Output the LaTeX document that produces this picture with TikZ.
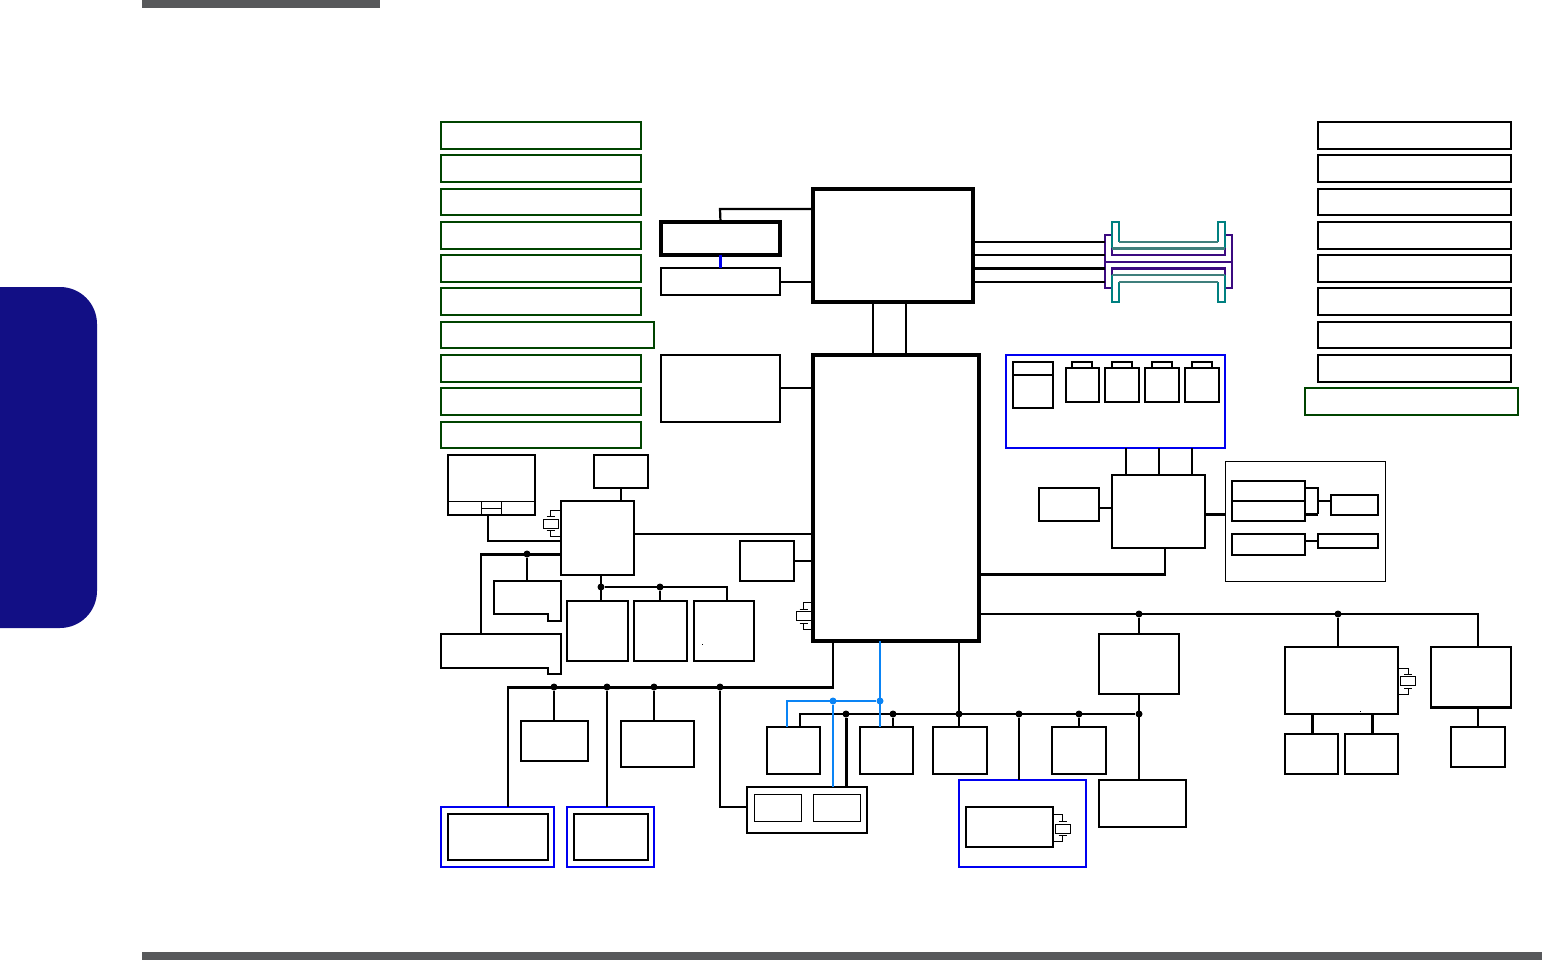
\documentclass[tikz,border=0pt]{standalone}
\usetikzlibrary{calc}
\definecolor{tabblue}{HTML}{120F85}
\definecolor{bargray}{HTML}{58595B}
\definecolor{grn}{HTML}{004400}
\definecolor{pnl}{HTML}{0000F0}
\definecolor{sky}{HTML}{0A84F5}
\definecolor{purp}{HTML}{3B0A80}
\definecolor{tealA}{HTML}{008080}
\definecolor{tealB}{HTML}{3F7F7C}
\tikzset{
  boxbase/.style={draw,rectangle,inner sep=0pt,outer sep=0pt,line join=miter},
  blk/.style={boxbase,black,line width=2.2pt},
  blkm/.style={boxbase,black,line width=2.7pt},
  blkh/.style={boxbase,black,line width=4pt},
  thin1/.style={boxbase,black,line width=1pt},
  grnbox/.style={boxbase,grn,line width=2.2pt},
  pnlbox/.style={boxbase,pnl,line width=2.2pt},
  wire/.style={black,line width=2.2pt,line join=miter},
  wireh/.style={black,line width=3pt,line join=miter},
  skyw/.style={sky,line width=2.2pt},
  bluew/.style={pnl,line width=2.2pt},
  jn/.style={circle,fill=black,inner sep=0pt,minimum size=7pt,draw=none},
  jnsky/.style={circle,fill=sky,inner sep=0pt,minimum size=7pt,draw=none},
  xtalr/.style={boxbase,black,line width=1pt,fill=white},
}
\newcommand{\mybox}[6][blk]{%
  \pgfmathsetmacro{\bw}{#5-#3}\pgfmathsetmacro{\bh}{#6-#4}%
  \pgfmathsetmacro{\bcx}{(#3+#5)/2}\pgfmathsetmacro{\bcy}{(#4+#6)/2}%
  \node[#1,minimum width=\bw pt,minimum height=\bh pt] (#2) at (\bcx,\bcy) {};}
% name, centre x, centre y, chip anchor, top arm y, bottom arm y
\newcommand{\myxtal}[6]{%
  \pgfmathsetmacro{\xa}{#2-7.5}\pgfmathsetmacro{\xb}{#2+7.5}%
  \pgfmathsetmacro{\ca}{#2-4}\pgfmathsetmacro{\cb}{#2+4}%
  \pgfmathsetmacro{\ra}{#3-4.5}\pgfmathsetmacro{\rb}{#3+4.5}%
  \pgfmathsetmacro{\ta}{#3-7}\pgfmathsetmacro{\tb}{#3+7}%
  \mybox[xtalr]{#1}{\xa}{\ra}{\xb}{\rb}%
  \draw[black,line width=1pt] (#4 |- 0,#5) -- (#2,#5) -- (#2,\ta) (\ca,\ta) -- (\cb,\ta);
  \draw[black,line width=1pt] (#4 |- 0,#6) -- (#2,#6) -- (#2,\tb) (\ca,\tb) -- (\cb,\tb);}
\begin{document}
\begin{tikzpicture}[x=1pt,y=-1pt]
\useasboundingbox (0,0) rectangle (1542,960);
% page furniture
\fill[bargray] (142,0) rectangle (380,8);
\fill[bargray] (142,952) rectangle (1542,960);
\fill[tabblue,rounded corners=37pt] (0,287) -- (97,287) -- (97,628) -- (0,628);
% left green column
\mybox[grnbox]{gA}{441}{122}{641}{149}
\mybox[grnbox]{gB}{441}{155}{641}{182}
\mybox[grnbox]{gC}{441}{189}{641}{215}
\mybox[grnbox]{gD}{441}{222}{641}{249}
\mybox[grnbox]{gE}{441}{255}{641}{282}
\mybox[grnbox]{gF}{441}{288}{641}{315}
\mybox[grnbox]{gG}{441}{322}{654}{348}
\mybox[grnbox]{gH}{441}{355}{641}{382}
\mybox[grnbox]{gI}{441}{388}{641}{415}
\mybox[grnbox]{gJ}{441}{422}{641}{448}
% right column
\mybox{rA}{1318}{122}{1511}{149}
\mybox{rB}{1318}{155}{1511}{182}
\mybox{rC}{1318}{189}{1511}{215}
\mybox{rD}{1318}{222}{1511}{249}
\mybox{rE}{1318}{255}{1511}{282}
\mybox{rF}{1318}{288}{1511}{315}
\mybox{rG}{1318}{322}{1511}{348}
\mybox{rH}{1318}{355}{1511}{382}
\mybox[grnbox]{rI}{1305}{388}{1518}{415}
% main chips
\mybox[blkh]{nb}{813}{188.8}{973}{302}
\mybox[blkh]{sb}{813}{355}{979}{641}
\mybox[blkh]{vram}{661}{222}{780}{255}
\mybox{gfx}{661}{268}{780}{295}
\mybox{lvds}{661}{355}{780}{422}
\draw[wire] (vram.north) -- (720,209) -- (nb.west |- 0,209);
\draw[bluew] (vram.south) -- (gfx.north);
\draw[wire] (gfx.east |- 0,282) -- (nb.west |- 0,282);
\draw[wire] (lvds.east |- 0,388) -- (sb.west |- 0,388);
\draw[wire] (873,0 |- nb.south) -- (873,0 |- sb.north);
\draw[wire] (906,0 |- nb.south) -- (906,0 |- sb.north);
% memory sockets
\coordinate (memw) at (1105,262);
\coordinate (teA) at (1112,248);
\draw[purp,line width=2pt] (1105,235) -- (1112,235) -- (1112,255) -- (1225,255) -- (1225,235) -- (1232,235) -- (1232,288) -- (1225,288) -- (1225,268) -- (1112,268) -- (1112,288) -- (1105,288) -- cycle;
\draw[purp,line width=2pt] (1105,262) -- (1232,262);
\draw[purp,line width=3pt] (1112,268) -- (1225,268);
\draw[tealA,line width=2pt] (1112,248) -- (1112,222) -- (1119,222) -- (1119,242) (1218,242) -- (1218,222) -- (1225,222) -- (1225,248);
\draw[tealB,line width=2pt] (1119,242) -- (1218,242);
\draw[tealB,line width=3pt] (1112,248) -- (1225,248);
\draw[tealA,line width=2pt] (1112,275) -- (1112,302) -- (1119,302) -- (1119,282) (1218,282) -- (1218,302) -- (1225,302) -- (1225,275);
\draw[tealB,line width=2pt] (1112,275) -- (1225,275) (1119,282) -- (1218,282);
\draw[wire] (nb.east |- 0,242) -- (memw |- 0,242);
\draw[wire] (nb.east |- 0,255) -- (memw |- 0,255);
\draw[wireh] (nb.east |- 0,268) -- (memw |- 0,268);
\draw[wire] (nb.east |- 0,282) -- (memw |- 0,282);
% blue panel top right
\mybox[pnlbox]{pA}{1006}{355}{1225}{448}
\mybox{cr}{1013}{362}{1053}{408}
\draw[wire] (cr.west |- 0,375) -- (cr.east |- 0,375);
\mybox{tA}{1072}{362}{1092}{368}
\mybox{tB}{1112}{362}{1132}{368}
\mybox{tC}{1152}{362}{1172}{368}
\mybox{tD}{1192}{362}{1212}{368}
\mybox[blkm]{sA}{1066}{368}{1099}{402}
\mybox[blkm]{sB}{1105}{368}{1139}{402}
\mybox[blkm]{sC}{1145}{368}{1179}{402}
\mybox[blkm]{sD}{1185}{368}{1219}{402}
\mybox{cardc}{1112}{475}{1205}{548}
\mybox{cardb}{1039}{488}{1099}{521}
\draw[wire] (1126,0 |- pA.south) -- (1126,0 |- cardc.north);
\draw[wire] (1159,0 |- pA.south) -- (1159,0 |- cardc.north);
\draw[wire] (1192,0 |- pA.south) -- (1192,0 |- cardc.north);
\draw[wire] (cardb.east |- 0,508) -- (cardc.west |- 0,508);
\draw[wire] (1165,0 |- cardc.south) -- (1165,575);
\draw[wireh] (1166,574) -- (sb.east |- 0,574);
% audio-like thin panel
\mybox[thin1]{pB}{1225.5}{461.5}{1385.5}{581}
\mybox{aA}{1232}{481}{1305}{501}
\mybox{aB}{1232}{501}{1305}{521}
\mybox[blkm]{aC}{1331}{495}{1378}{515}
\mybox{aD}{1232}{534}{1305}{555}
\mybox{aE}{1318}{534}{1378}{548}
\draw[wireh] (cardc.east |- 0,514) -- (pB.west |- 0,514);
\draw[wire] (aA.east |- 0,488) -- (1318,488) -- (1318,514);
\draw[wireh] (1318,514.5) -- (aB.east |- 0,514.5);
\draw[wire] (1318,501) -- (aC.west |- 0,501);
\draw[wire] (aD.east |- 0,541) -- (aE.west |- 0,541);
% touchpad, KBC group
\mybox[blkm]{tp}{448}{455}{535}{515}
\coordinate (tpL) at (448,501);
\coordinate (tpR) at (535,501);
\draw[black,line width=1pt] (tpL) -- (tpR) (481,501) -- (481,515) (501,501) -- (501,515) (481,508) -- (501,508);
\mybox[blkm]{kbd}{594}{455}{648}{488}
\mybox{kbc}{561}{501}{634}{575}
\draw[wire] (621,0 |- kbd.south) -- (621,0 |- kbc.north);
\draw[wire] (488,0 |- tp.south) -- (488,541) -- (kbc.west |- 0,541);
\draw[wire] (kbc.east |- 0,534) -- (sb.west |- 0,534);
\myxtal{xtA}{550.5}{523.5}{kbc.west}{510}{536}
\coordinate (ntA) at (527,581);
\coordinate (ntB) at (481,634);
\draw[black,line width=2.2pt,line join=miter] (494,581) -- (561,581) -- (561,621) -- (548,621) -- (548,614) -- (494,614) -- cycle;
\draw[black,line width=2.2pt,line join=miter] (441,634) -- (561,634) -- (561,674) -- (548,674) -- (548,668) -- (441,668) -- cycle;
\node[jn] (dA) at (527,554) {};
\draw[wireh] (kbc.west |- 0,554) -- (481,554);
\draw[wire] (481,553) -- (ntB);
\draw[wire] (dA) -- (ntA);
\mybox[blkm]{mA}{567}{601}{628}{661}
\mybox{mB}{634}{601}{687}{661}
\mybox{mC}{694}{601}{754}{661}
\node[jn] (dB) at (601,587) {};
\node[jn] (dC) at (660,587) {};
\draw[wire] (601,0 |- kbc.south) -- (601,0 |- mA.north);
\draw[wire] (dB) -- (727,587) -- (727,0 |- mC.north);
\draw[wire] (dC) -- (660,0 |- mB.north);
\fill[black] (701.5,644) rectangle (702.5,645);
\mybox{fan}{740}{541}{794}{581}
\draw[wire] (fan.east |- 0,561) -- (sb.west |- 0,561);
\myxtal{xtB}{803.5}{616}{sb.west}{602}{629}
% lower-left bus
\node[jn] (eA) at (554,687) {};
\node[jn] (eB) at (607,687) {};
\node[jn] (eC) at (654,687) {};
\node[jn] (eD) at (720,687) {};
\mybox[blkm]{uA}{521}{721}{588}{761}
\mybox{uB}{621}{721}{694}{767}
\mybox[pnlbox]{pC}{441}{807}{554}{867}
\mybox{pCi}{448}{814}{548}{860}
\mybox[pnlbox]{pD}{567}{807}{654}{867}
\mybox[blkm]{pDi}{574}{814}{648}{860}
\mybox{cb}{747}{787}{867}{833}
\mybox[thin1]{cbA}{754}{794}{801}{821}
\mybox[thin1]{cbB}{813}{794}{860}{821}
\draw[wire] (833,0 |- sb.south) -- (833,687);
\draw[wireh] (834,687) -- (508,687);
\draw[wire] (508,686) -- (508,0 |- pC.north);
\draw[wire] (eA) -- (554,0 |- uA.north);
\draw[wire] (eB) -- (607,0 |- pD.north);
\draw[wire] (eC) -- (654,0 |- uB.north);
\draw[wire] (eD) -- (720,807) -- (cb.west |- 0,807);
% lower-middle bus
\mybox{vA}{767}{727}{820}{774}
\mybox{vB}{860}{727}{913}{774}
\mybox{vC}{933}{727}{987}{774}
\mybox[blkm]{vD}{1052}{727}{1106}{774}
\mybox[pnlbox]{pE}{959}{780}{1086}{867}
\mybox{lan}{966}{807}{1053}{847}
\myxtal{xtC}{1062.5}{828.5}{lan.east}{814}{841}
\mybox{hub}{1099}{634}{1179}{694}
\mybox[blkm]{vE}{1099}{780}{1186}{827}
\coordinate (tbL) at (800,714);
\node[jn] (fA) at (846,714) {};
\node[jn] (fB) at (893,714) {};
\node[jn] (fC) at (959,714) {};
\node[jn] (fD) at (1019,714) {};
\node[jn] (fE) at (1079,714) {};
\node[jn] (fF) at (1139,714) {};
\draw[wire] (800,0 |- vA.north) -- (tbL) -- (fF);
\draw[wireh] (fA) -- (846,0 |- cb.north);
\draw[wire] (fB) -- (893,0 |- vB.north);
\draw[wire] (959,0 |- sb.south) -- (959,0 |- vC.north);
\draw[wire] (fD) -- (1019,0 |- pE.north);
\draw[wire] (fE) -- (1079,0 |- vD.north);
\draw[wire] (1139,0 |- hub.south) -- (1139,0 |- vE.north);
% sky-blue lines
\node[jnsky] (gA1) at (880,701) {};
\node[jnsky] (gB1) at (833,701) {};
\draw[skyw] (880,0 |- sb.south) -- (880,0 |- vB.north);
\draw[skyw] (787,0 |- vA.north) -- (787,701) -- (gA1);
\draw[skyw] (gB1) -- (833,0 |- cb.north);
% right side
\mybox{wl}{1285}{647}{1398}{714}
\mybox{wlA}{1285}{734}{1338}{774}
\mybox{wlB}{1345}{734}{1398}{774}
\mybox[blkm]{hA}{1431}{647}{1511}{707.5}
\mybox{hB}{1451}{727}{1505}{767}
\node[jn] (hA1) at (1139,614) {};
\node[jn] (hB1) at (1338,614) {};
\draw[wire] (sb.east |- 0,614) -- (1478,614) -- (1478,0 |- hA.north);
\draw[wire] (hA1) -- (1139,0 |- hub.north);
\draw[wire] (hB1) -- (1338,0 |- wl.north);
\draw[wireh] (1312,0 |- wl.south) -- (1312,0 |- wlA.north);
\draw[wireh] (1372,0 |- wl.south) -- (1372,0 |- wlB.north);
\draw[wire] (1478,0 |- hA.south) -- (1478,0 |- hB.north);
\myxtal{xtD}{1408}{681}{wl.east}{668}{694}
\fill[black] (1359.5,710.5) rectangle (1360.5,711.5);
\end{tikzpicture}
\end{document}
